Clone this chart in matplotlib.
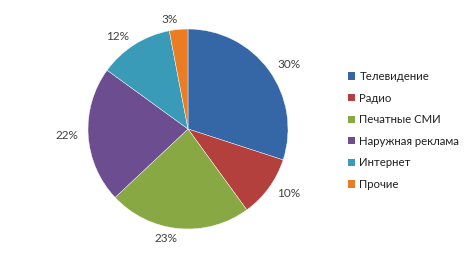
import matplotlib
matplotlib.use("Agg")
import matplotlib.pyplot as plt
from matplotlib.patches import Patch

plt.rcParams['font.family'] = ['Lato', 'DejaVu Sans']

categories = ["Телевидение", "Радио", "Печатные СМИ", "Наружная реклама", "Интернет", "Прочие"]
shares = [30, 10, 23, 22, 12, 3]
colors = ["#3566a6", "#b3403c", "#88a843", "#6b4d90", "#3a9bb8", "#ea7d24"]

fig = plt.figure(figsize=(4.70, 2.57), dpi=100)
ax = fig.add_axes([88 / 470, 28 / 257, 200 / 470, 200 / 257])

wedges, texts = ax.pie(shares, colors=colors, startangle=90, counterclock=False,
                       labels=[f"{s}%" for s in shares], labeldistance=1.1,
                       wedgeprops=dict(edgecolor="white", linewidth=0.3),
                       textprops=dict(fontsize=8.5, color="#404040"))
ax.set_xlim(-1, 1)
ax.set_ylim(-1, 1)
ax.set_aspect("equal")

handles = [Patch(facecolor=c, edgecolor="none") for c in colors]
fig.legend(handles, categories, loc="upper left", bbox_to_anchor=(348 / 470, 1 - 71 / 257),
           frameon=False, fontsize=8.2, labelcolor="#202020",
           handlelength=0.6, handleheight=0.6, handletextpad=0.4,
           labelspacing=0.93, borderaxespad=0, borderpad=0)

fig.savefig("out.png", dpi=100)
